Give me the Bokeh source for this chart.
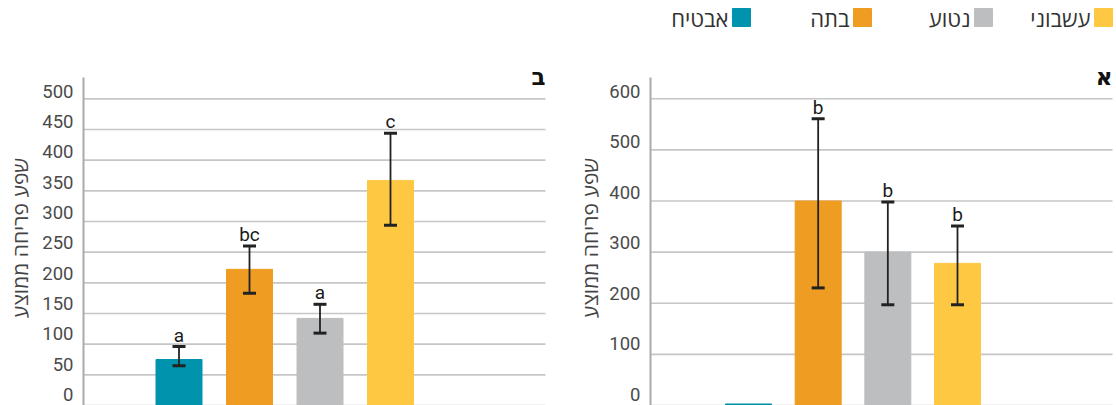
from math import pi
from bokeh.plotting import figure
from bokeh.layouts import column, row
from bokeh.models import (ColumnDataSource, Range1d, Label, LabelSet, Whisker,
                          TeeHead)
from bokeh.core.properties import value
from bokeh.embed import file_html
from bokeh.resources import INLINE

# ---------------- data ----------------
categories = ["עשבוני", "נטוע", "בתה", "אבטיח"]
colors = ["#FFC843", "#BDBEC0", "#EE9C22", "#0093AD"]

# panel א (right)
a_values = [278, 300, 400, 3]
a_upper = [351, 398, 561, None]
a_lower = [197, 197, 230, None]
a_letters = ["b", "b", "b", ""]
a_ticks = [0, 100, 200, 300, 400, 500, 600]

# panel ב (left)
b_values = [367, 142, 222, 75]
b_upper = [444, 165, 260, 96]
b_lower = [294, 118, 183, 65]
b_letters = ["c", "a", "bc", "a"]
b_ticks = [0, 50, 100, 150, 200, 250, 300, 350, 400, 450, 500]

ylabel = "שפע פריחה ממוצע"
titles = {"a": "א", "b": "ב"}

HEB_FONT = "Open Sans"
NUM_FONT = "Roboto"

# ---------------- layout (pixels) ----------------
PAGE_H = 405
LEG_H = 48
FRAME_TOP = 77      # top of axis line
ZERO_Y = 405        # pixel row of value 0
INK = "#222222"


def panel(vals, upper, lower, letters, ticks, title, fig_x0, fig_w,
          axis_px, grid_end_px, left_bar_px, right_bar_px, y_top_val,
          ylabel_px, bar_px=46):
    n = len(vals)
    xs = list(range(n))
    unit = (right_bar_px - left_bar_px) / (n - 1)        # px per category

    def xv(px):   # page px -> data (reversed axis: index 0 on the right)
        return (right_bar_px - px) / unit

    scale = (ZERO_Y - FRAME_TOP) / y_top_val             # px per unit

    def yv(py):
        return (ZERO_Y - py) / scale

    p = figure(width=fig_w, height=PAGE_H - LEG_H, output_backend="svg",
               toolbar_location=None, x_axis_type=None, y_axis_type=None,
               x_range=Range1d(xv(fig_x0), xv(fig_x0 + fig_w)),
               y_range=Range1d(0, yv(LEG_H)),
               min_border=0, outline_line_color=None)
    p.xgrid.visible = False
    p.ygrid.visible = False

    ax = xv(axis_px)
    gx = xv(grid_end_px)

    # grid lines
    p.segment(x0=[ax] * len(ticks), x1=[gx] * len(ticks), y0=ticks, y1=ticks,
              line_color="#c6c6c6", line_width=1.6)

    # bars
    src = ColumnDataSource(dict(x=xs, top=vals, color=colors))
    p.vbar(x="x", top="top", bottom=0, width=bar_px / unit, color="color",
           source=src)

    # axis line
    p.segment(x0=[ax], x1=[ax], y0=[0], y1=[y_top_val],
              line_color="#aaaaaa", line_width=2)

    # error bars
    ex = [x for x, u in zip(xs, upper) if u is not None]
    eu = [u for u in upper if u is not None]
    el = [l for l in lower if l is not None]
    esrc = ColumnDataSource(dict(x=ex, upper=eu, lower=el))
    w = Whisker(source=esrc, base="x", upper="upper", lower="lower",
                line_color=INK, line_width=1.8, level="annotation",
                upper_head=TeeHead(size=13, line_width=3, line_color=INK),
                lower_head=TeeHead(size=13, line_width=3, line_color=INK))
    p.add_layout(w)

    # significance letters
    ly = [u if u is not None else v for u, v in zip(upper, vals)]
    lsrc = ColumnDataSource(dict(x=xs, y=ly, t=letters))
    p.add_layout(LabelSet(x="x", y="y", text="t", source=lsrc, y_offset=5,
                          text_align="center", text_baseline="alphabetic",
                          text_font=value(NUM_FONT), text_font_size="19px",
                          text_color="#1a1a1a"))

    # tick labels (sit slightly above the grid lines, a bit more near zero)
    tmax = max(ticks)
    tsrc = ColumnDataSource(dict(x=[ax] * len(ticks), y=ticks,
                                 t=[str(t) for t in ticks],
                                 off=[11 - 3.5 * t / tmax for t in ticks]))
    p.add_layout(LabelSet(x="x", y="y", text="t", source=tsrc,
                          x_offset=-10, y_offset="off", text_align="right",
                          text_baseline="middle", text_font=value(NUM_FONT),
                          text_font_size="18.5px", text_color="#4a4a4a"))

    # y axis label
    p.add_layout(Label(x=xv(ylabel_px), y=yv(237.5), text=ylabel,
                       angle=pi / 2, text_align="center",
                       text_baseline="middle", text_font=HEB_FONT,
                       text_font_size="21px", text_color="#444444"))

    # panel title
    p.add_layout(Label(x=gx, y=y_top_val, y_offset=1, text=title,
                       text_align="right", text_baseline="alphabetic",
                       text_font="DejaVu Sans", text_font_size="23px",
                       text_font_style="bold", text_color="#111111"))
    return p


left = panel(b_values, b_upper, b_lower, b_letters, b_ticks, titles["b"],
             fig_x0=0, fig_w=560, axis_px=83, grid_end_px=545,
             left_bar_px=178.5, right_bar_px=390, y_top_val=534.8,
             ylabel_px=19)
right = panel(a_values, a_upper, a_lower, a_letters, a_ticks, titles["a"],
              fig_x0=560, fig_w=556, axis_px=650, grid_end_px=1112,
              left_bar_px=748, right_bar_px=957, y_top_val=641.5,
              ylabel_px=589)

# ---------------- legend ----------------
W = 1116
leg = figure(width=W, height=LEG_H, output_backend="svg",
             toolbar_location=None, x_axis_type=None, y_axis_type=None,
             x_range=Range1d(0, W), y_range=Range1d(LEG_H, 0),
             min_border=0, outline_line_color=None)
leg.xgrid.visible = False
leg.ygrid.visible = False
sq = 18
sq_right = [1112, 992, 871, 750]
lsrc = ColumnDataSource(dict(
    x=[r - sq / 2 for r in sq_right],
    tx=[r - sq - 4 for r in sq_right],
    t=categories, color=colors))
leg.rect(x="x", y=17, width=sq, height=sq, color="color", source=lsrc)
leg.text(x="tx", y=17, text="t", source=lsrc, text_align="right",
         text_baseline="middle", text_font=value(HEB_FONT),
         text_font_size="22px", text_color="#333333")

layout = column(leg, row(left, right))
open("out.html", "w").write(file_html(layout, INLINE))
